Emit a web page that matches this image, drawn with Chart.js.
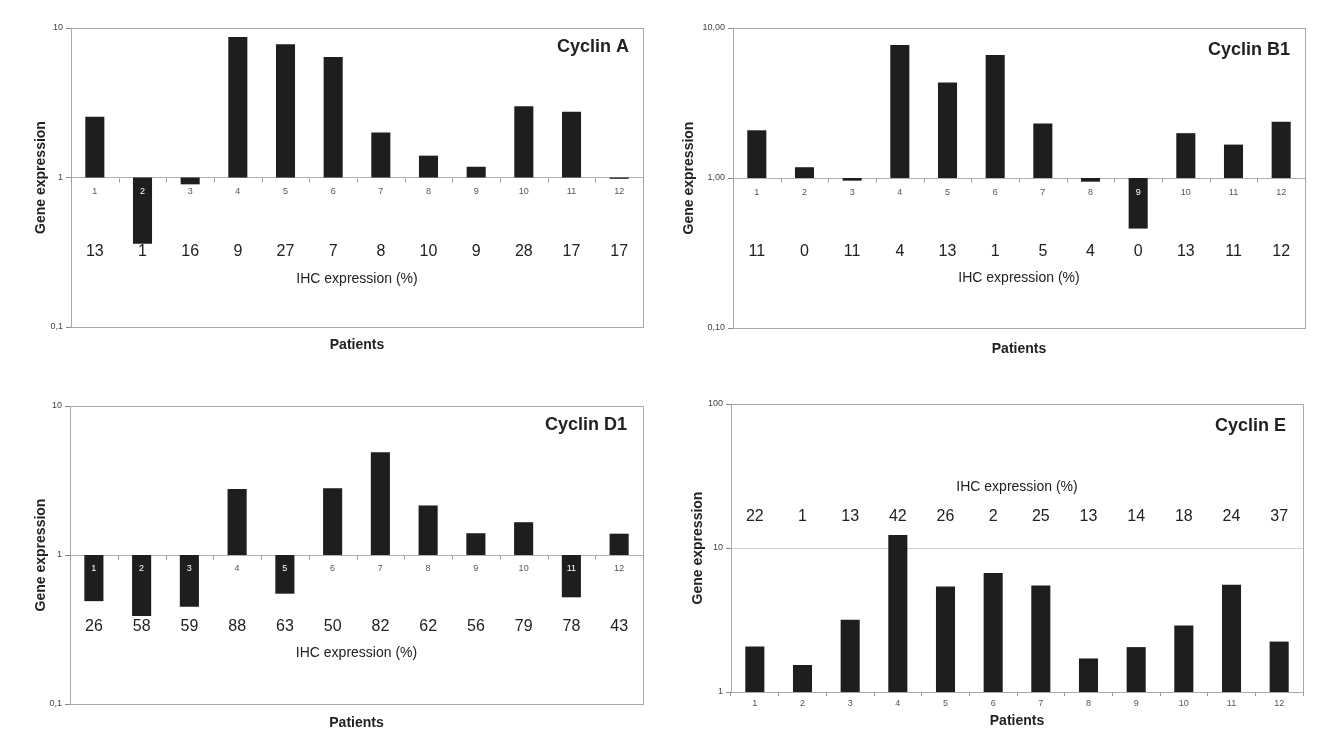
<!DOCTYPE html>
<html>
<head>
<meta charset="utf-8">
<script src="https://cdn.jsdelivr.net/npm/chart.js@4.4.1/dist/chart.umd.min.js"></script>
<style>
  body { margin: 0; background: #fff; width: 1339px; height: 740px; position: relative; overflow: hidden; }
  .cell { position: absolute; }
</style>
</head>
<body>
<div class="cell" style="left:0;top:0"><canvas id="cyclinA" width="669" height="370"></canvas></div>
<div class="cell" style="left:669px;top:0"><canvas id="cyclinB1" width="670" height="370"></canvas></div>
<div class="cell" style="left:0;top:370px"><canvas id="cyclinD1" width="669" height="370"></canvas></div>
<div class="cell" style="left:669px;top:370px"><canvas id="cyclinE" width="670" height="370"></canvas></div>
<script>
var FONT = '"Liberation Sans", Arial, sans-serif';

// patients on the x axis
var patients = ['1', '2', '3', '4', '5', '6', '7', '8', '9', '10', '11', '12'];

// gene expression (relative, log scale, base 1)
var geneA = [2.55, 0.36, 0.90, 8.7, 7.8, 6.4, 2.0, 1.40, 1.18, 3.0, 2.75, 0.98];
var geneB1 = [2.08, 1.18, 0.96, 7.7, 4.33, 6.6, 2.31, 0.945, 0.46, 1.99, 1.67, 2.37];
var geneD1 = [0.49, 0.39, 0.45, 2.77, 0.55, 2.80, 4.9, 2.15, 1.40, 1.66, 0.52, 1.39];
var geneE = [2.07, 1.54, 3.17, 12.3, 5.4, 6.7, 5.5, 1.71, 2.05, 2.9, 5.55, 2.24];

// IHC expression (%)
var ihcA = [13, 1, 16, 9, 27, 7, 8, 10, 9, 28, 17, 17];
var ihcB1 = [11, 0, 11, 4, 13, 1, 5, 4, 0, 13, 11, 12];
var ihcD1 = [26, 58, 59, 88, 63, 50, 82, 62, 56, 79, 78, 43];
var ihcE = [22, 1, 13, 42, 26, 2, 25, 13, 14, 18, 24, 37];

// y tick values and their labels
var ticksA = [0.1, 1, 10];
var tickLabelsA = ['0,1', '1', '10'];
var ticksB1 = [0.1, 1, 10];
var tickLabelsB1 = ['0,10', '1,00', '10,00'];
var ticksD1 = [0.1, 1, 10];
var tickLabelsD1 = ['0,1', '1', '10'];
var ticksE = [1, 10, 100];
var tickLabelsE = ['1', '10', '100'];

var cyclinText = {
  id: 'cyclinText',
  beforeDatasetsDraw: function(chart) {
    var ctx = chart.ctx, a = chart.chartArea;
    ctx.save();
    ctx.strokeStyle = '#a9a9a9';
    ctx.lineWidth = 1;
    ctx.strokeRect(Math.round(a.left) + 0.5, Math.round(a.top) + 0.5,
      Math.round(a.right - a.left), Math.round(a.bottom - a.top));
    ctx.restore();
  },
  afterDatasetsDraw: function(chart, args, o) {
    var ctx = chart.ctx, a = chart.chartArea;
    var xs = chart.scales.x, ys = chart.scales.y;
    ctx.save();
    ctx.fillStyle = '#222';
    ctx.textBaseline = 'middle';

    ctx.font = 'bold 18px ' + FONT;
    ctx.textAlign = 'right';
    ctx.fillText(o.title, a.right - o.titleInset, o.titleY);

    ctx.textAlign = 'center';
    ctx.font = '16px ' + FONT;
    for (var i = 0; i < o.ihc.length; i++) {
      ctx.fillText(String(o.ihc[i]), xs.getPixelForValue(i), o.ihcY);
    }
    ctx.font = '14px ' + FONT;
    ctx.fillText('IHC expression (%)', (a.left + a.right) / 2, o.ihcLabelY);

    if (o.baseLabels) {
      var y1 = Math.round(ys.getPixelForValue(1)) + 0.5;
      ctx.strokeStyle = '#999';
      ctx.lineWidth = 1;
      ctx.beginPath();
      for (var k = 0; k <= patients.length; k++) {
        var bx;
        if (k == 0) bx = a.left;
        else if (k == patients.length) bx = a.right;
        else bx = (xs.getPixelForValue(k - 1) + xs.getPixelForValue(k)) / 2;
        bx = Math.round(bx) + 0.5;
        ctx.moveTo(bx, y1);
        ctx.lineTo(bx, y1 + 4);
      }
      ctx.stroke();

      ctx.font = '9px ' + FONT;
      var ly = y1 + o.baseLabelOffset;
      for (var j = 0; j < patients.length; j++) {
        var v = o.values[j];
        var bottom = ys.getPixelForValue(v);
        ctx.fillStyle = (v < 1 && bottom > ly + 5) ? '#fff' : '#555';
        ctx.fillText(patients[j], xs.getPixelForValue(j), ly);
      }
    }
    ctx.restore();
  }
};

function makeChart(id, values, ihc, cfg) {
  return new Chart(document.getElementById(id), {
    type: 'bar',
    data: {
      labels: patients,
      datasets: [{
        data: values.map(function(v) { return [1, v]; }),
        backgroundColor: '#1e1e1e',
        borderWidth: 0,
        borderSkipped: false,
        barPercentage: 0.8,
        categoryPercentage: 0.5
      }]
    },
    options: {
      responsive: false,
      animation: false,
      layout: { padding: cfg.pad },
      plugins: {
        legend: { display: false },
        tooltip: { enabled: false },
        cyclinText: {
          title: cfg.title, titleInset: cfg.titleInset, titleY: cfg.titleY,
          ihc: ihc, ihcY: cfg.ihcY, ihcLabelY: cfg.ihcLabelY,
          baseLabels: cfg.baseLabels, baseLabelOffset: cfg.baseLabelOffset, values: values
        }
      },
      scales: {
        x: {
          ticks: { display: !cfg.baseLabels, font: { family: FONT, size: 9 }, color: '#555', padding: 2, autoSkip: false, maxRotation: 0 },
          grid: { display: !cfg.baseLabels, drawOnChartArea: false, tickLength: 4, color: '#999' },
          border: { display: false },
          title: { display: true, text: 'Patients', font: { family: FONT, size: 14, weight: 'bold' }, color: '#222', padding: 0 },
          afterFit: function(s) { s.height = cfg.xHeight; }
        },
        y: {
          type: 'logarithmic',
          min: cfg.ticks[0],
          max: cfg.ticks[cfg.ticks.length - 1],
          afterBuildTicks: function(s) {
            s.ticks = cfg.ticks.map(function(v) { return { value: v }; });
          },
          ticks: {
            autoSkip: false,
            font: { family: FONT, size: 9 },
            color: '#444',
            padding: 3,
            callback: function(v, i) { return cfg.tickLabels[i]; }
          },
          grid: {
            color: function(c) {
              return (c.tick && c.tick.value === cfg.gridAt) ? cfg.gridColor : 'rgba(0,0,0,0)';
            },
            tickColor: '#888',
            tickLength: 5
          },
          border: { display: true, color: '#a9a9a9' },
          title: { display: true, text: 'Gene expression', font: { family: FONT, size: 14, weight: 'bold' }, color: '#222', padding: 0 },
          afterFit: function(s) { s.width = cfg.yWidth; }
        }
      }
    },
    plugins: [cyclinText]
  });
}

makeChart('cyclinA', geneA, ihcA, {
  title: 'Cyclin A', titleInset: 14, titleY: 47,
  ticks: ticksA, tickLabels: tickLabelsA, gridAt: 1, gridColor: '#b0b0b0',
  pad: { left: 33, right: 26, top: 28, bottom: 16.6 }, yWidth: 38, xHeight: 26.4,
  ihcY: 252, ihcLabelY: 279, baseLabels: true, baseLabelOffset: 13
});
makeChart('cyclinB1', geneB1, ihcB1, {
  title: 'Cyclin B1', titleInset: 15, titleY: 50,
  ticks: ticksB1, tickLabels: tickLabelsB1, gridAt: 1, gridColor: '#b0b0b0',
  pad: { left: 11.6, right: 34, top: 28, bottom: 12.6 }, yWidth: 52.4, xHeight: 29.4,
  ihcY: 252, ihcLabelY: 278, baseLabels: true, baseLabelOffset: 14
});
makeChart('cyclinD1', geneD1, ihcD1, {
  title: 'Cyclin D1', titleInset: 16, titleY: 55,
  ticks: ticksD1, tickLabels: tickLabelsD1, gridAt: 1, gridColor: '#b0b0b0',
  pad: { left: 32.6, right: 26, top: 36, bottom: 8.6 }, yWidth: 37.4, xHeight: 27.4,
  ihcY: 257, ihcLabelY: 283, baseLabels: true, baseLabelOffset: 13
});
makeChart('cyclinE', geneE, ihcE, {
  title: 'Cyclin E', titleInset: 17, titleY: 56,
  ticks: ticksE, tickLabels: tickLabelsE, gridAt: 10, gridColor: '#d0d0d0',
  pad: { left: 20.6, right: 36, top: 34, bottom: 10.6 }, yWidth: 41.4, xHeight: 37.4,
  ihcY: 147, ihcLabelY: 117, baseLabels: false, baseLabelOffset: 0
});
</script>
</body>
</html>
